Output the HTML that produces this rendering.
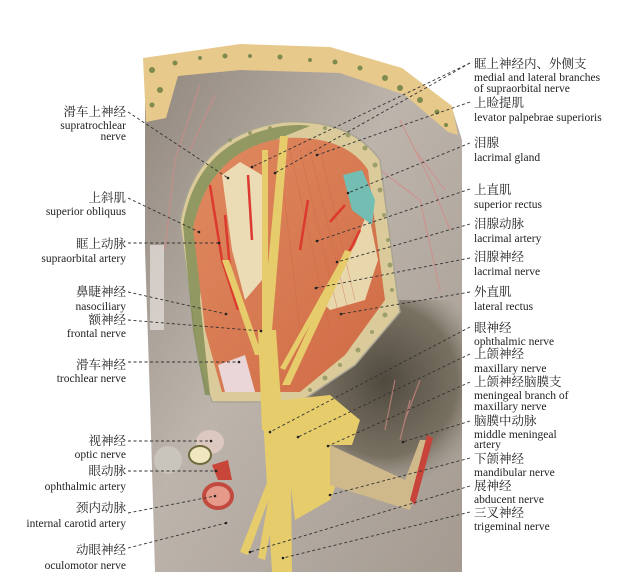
<!DOCTYPE html>
<html><head><meta charset="utf-8"><style>
html,body{margin:0;padding:0;background:#fff;}
svg{display:block;}
.c{font-family:"Liberation Serif","Noto Serif CJK SC",serif;font-size:12.5px;fill:#222;}
.e{font-family:"Liberation Serif","Noto Serif CJK SC",serif;font-size:11.5px;fill:#222;}
.d{stroke:#333;stroke-width:0.9;stroke-dasharray:3 2.5;fill:none;}
</style></head><body>
<svg width="625" height="587" viewBox="0 0 625 587" xmlns="http://www.w3.org/2000/svg">
<defs>
<linearGradient id="bg" x1="0" y1="0" x2="1" y2="1">
<stop offset="0" stop-color="#8f857b"/><stop offset="0.45" stop-color="#bdb4ac"/><stop offset="1" stop-color="#a49a90"/>
</linearGradient>
<radialGradient id="dk" cx="0.55" cy="0.45" r="0.6">
<stop offset="0" stop-color="#4f4a3e"/><stop offset="0.7" stop-color="#6a6252" stop-opacity="0.8"/><stop offset="1" stop-color="#8c8377" stop-opacity="0"/>
</radialGradient>
<linearGradient id="mus" x1="0" y1="0" x2="1" y2="1">
<stop offset="0" stop-color="#e08a60"/><stop offset="1" stop-color="#cf6a45"/>
</linearGradient>
</defs>
<path d="M145 60 L240 45 L330 48 L400 68 L452 108 L462 140 L462 572 L155 572 L150 400 L145 250 Z" fill="url(#bg)"/>
<path d="M290 300 L462 300 L462 480 L320 480 Z" fill="url(#dk)"/>
<rect x="150" y="245" width="14" height="85" fill="#e0dad4" opacity="0.8"/>
<g stroke="#d48a86" stroke-width="1.2" fill="none" opacity="0.7">
<path d="M200 85 L175 160 L165 250"/><path d="M215 95 L190 150"/>
<path d="M400 120 L430 180 L450 230"/><path d="M415 150 L445 190"/><path d="M380 170 L420 200 L440 290"/>
<path d="M410 400 L400 440"/><path d="M420 380 L405 420"/><path d="M395 380 L385 430"/>
</g>
<path d="M143 58 L240 44 L330 47 L402 68 L452 106 L458 135 L448 132 L405 95 L340 73 L240 70 L178 76 L166 118 L146 122 Z" fill="#e7c98b"/>
<g fill="#7e8a4e">
<circle cx="152" cy="70" r="3"/><circle cx="160" cy="90" r="3"/><circle cx="152" cy="105" r="2.5"/><circle cx="175" cy="63" r="2.5"/>
<circle cx="200" cy="58" r="2"/><circle cx="225" cy="56" r="2.5"/><circle cx="250" cy="56" r="2"/><circle cx="280" cy="57" r="2.5"/>
<circle cx="310" cy="60" r="2"/><circle cx="335" cy="62" r="2.5"/><circle cx="360" cy="68" r="2.5"/><circle cx="385" cy="78" r="3"/>
<circle cx="400" cy="88" r="3"/><circle cx="420" cy="100" r="3"/><circle cx="437" cy="112" r="2.5"/><circle cx="446" cy="125" r="2"/>
</g>
<!-- orbit -->
<path d="M180 222 Q195 135 283 122 Q350 118 380 160 L398 300 L400 312 L355 365 L300 402 L212 402 L198 360 Z" fill="#dccb9a" stroke="#a8a595" stroke-width="1.5"/>
<path d="M183 225 Q197 140 283 126 Q300 124 310 126 L250 150 L205 200 L200 300 L210 395 L205 395 L193 330 Z" fill="#7f8b52" opacity="0.8"/>
<path d="M193 228 Q210 148 285 138 Q345 135 368 170 L385 300 L345 355 L300 392 L222 392 L205 330 Z" fill="url(#mus)"/>
<g fill="#8d9560" opacity="0.8">
<circle cx="230" cy="140" r="2"/><circle cx="250" cy="133" r="2"/><circle cx="270" cy="128" r="2"/><circle cx="300" cy="127" r="2"/><circle cx="325" cy="128" r="2"/><circle cx="348" cy="135" r="2.5"/><circle cx="365" cy="148" r="2.5"/><circle cx="375" cy="165" r="2.5"/>
<circle cx="380" cy="190" r="2.5"/><circle cx="384" cy="215" r="2"/><circle cx="388" cy="240" r="2"/><circle cx="390" cy="265" r="2.5"/><circle cx="392" cy="290" r="2"/><circle cx="385" cy="315" r="2.5"/><circle cx="372" cy="332" r="2"/><circle cx="358" cy="350" r="2.5"/><circle cx="340" cy="365" r="2"/><circle cx="325" cy="378" r="2.5"/><circle cx="310" cy="390" r="2"/>
</g>
<!-- fat -->
<path d="M222 175 L240 162 L262 175 L262 280 L245 300 L232 250 Z" fill="#ecdcb5"/>
<path d="M320 300 L355 245 L368 210 L378 260 L365 300 L330 310 Z" fill="#e8d6ad"/>
<path d="M343 175 L362 170 L375 200 L372 225 L352 210 Z" fill="#74bdb3"/>
<path d="M218 365 L245 355 L255 392 L225 392 Z" fill="#ead6d6"/>
<g stroke="#c9603e" stroke-width="0.6" opacity="0.5">
<path d="M290 150 L330 330"/><path d="M300 150 L340 320"/><path d="M310 150 L348 310"/><path d="M320 150 L355 300"/><path d="M280 160 L300 330"/>
</g>
<g stroke="#dc3a2e" stroke-width="2.5" fill="none">
<path d="M210 185 L222 260 L238 310"/><path d="M225 215 L232 290"/><path d="M248 175 L252 240"/><path d="M330 222 L345 205"/><path d="M308 200 L300 250"/><path d="M340 270 L360 230"/>
</g>
<!-- nerves -->
<g fill="#e6cc6a">
<path d="M280 136 L288 136 L272 330 L262 330 Z"/>
<path d="M262 150 L268 150 L268 330 L262 330 Z"/>
<path d="M258 330 L276 330 L283 430 L262 430 Z"/>
<path d="M262 400 L290 400 L292 572 L272 572 Z"/>
<path d="M283 400 L330 395 L360 420 L352 445 L330 445 L338 480 L330 500 L295 520 L285 440 Z"/>
<path d="M330 445 L405 480 L420 440 L428 440 L410 510 L330 485 Z" fill="#cfb98a"/>
<path d="M345 250 L352 252 L290 385 L282 385 Z"/>
<path d="M338 265 L343 266 L285 370 L280 368 Z"/>
<path d="M222 260 L229 260 L262 355 L255 355 Z"/>
<path d="M268 480 L275 482 L248 555 L240 552 Z"/>
<path d="M270 490 L278 490 L265 560 L258 558 Z"/>
</g>
<path d="M410 500 L427 435 L433 438 L415 505 Z" fill="#c8443a"/>
<ellipse cx="210" cy="442" rx="14" ry="12" fill="#ddc8c0"/>
<ellipse cx="200" cy="455" rx="11" ry="9" fill="#f0e6c0" stroke="#6d6a3c" stroke-width="2"/>
<path d="M212 465 L228 460 L232 480 L218 480 Z" fill="#c8453a"/>
<ellipse cx="218" cy="496" rx="14" ry="12" fill="#e59a8a" stroke="#c24a3e" stroke-width="4"/>
<ellipse cx="168" cy="460" rx="14" ry="14" fill="#c9c4bc"/>
<path class="d" d="M128 112 L228 178"/>
<path class="d" d="M128 198 L199 232"/>
<path class="d" d="M128 243 L219 243"/>
<path class="d" d="M128 292 L226 314"/>
<path class="d" d="M128 320 L261 331"/>
<path class="d" d="M128 362 L239 362"/>
<path class="d" d="M128 441 L211 441"/>
<path class="d" d="M128 471 L216 471"/>
<path class="d" d="M128 513 L215 496"/>
<path class="d" d="M128 548 L226 523"/>
<path class="d" d="M470 63 L252 167"/>
<path class="d" d="M470 63 L275 173"/>
<path class="d" d="M470 102 L317 155"/>
<path class="d" d="M470 143 L348 193"/>
<path class="d" d="M470 189 L317 241"/>
<path class="d" d="M470 224 L337 262"/>
<path class="d" d="M470 258 L316 288"/>
<path class="d" d="M470 292 L341 314"/>
<path class="d" d="M470 327 L270 432"/>
<path class="d" d="M470 354 L298 437"/>
<path class="d" d="M470 382 L328 446"/>
<path class="d" d="M470 421 L403 442"/>
<path class="d" d="M470 458 L330 495"/>
<path class="d" d="M470 486 L250 552"/>
<path class="d" d="M470 512 L283 558"/>
<g fill="#222">
<circle cx="228" cy="178" r="1.3"/><circle cx="199" cy="232" r="1.3"/><circle cx="219" cy="243" r="1.3"/><circle cx="226" cy="314" r="1.3"/><circle cx="261" cy="331" r="1.3"/><circle cx="239" cy="362" r="1.3"/><circle cx="211" cy="441" r="1.3"/><circle cx="216" cy="471" r="1.3"/><circle cx="215" cy="496" r="1.3"/><circle cx="226" cy="523" r="1.3"/>
<circle cx="252" cy="167" r="1.3"/><circle cx="275" cy="173" r="1.3"/><circle cx="317" cy="155" r="1.3"/><circle cx="348" cy="193" r="1.3"/><circle cx="317" cy="241" r="1.3"/><circle cx="337" cy="262" r="1.3"/><circle cx="316" cy="288" r="1.3"/><circle cx="341" cy="314" r="1.3"/><circle cx="270" cy="432" r="1.3"/><circle cx="298" cy="437" r="1.3"/><circle cx="328" cy="446" r="1.3"/><circle cx="403" cy="442" r="1.3"/><circle cx="330" cy="495" r="1.3"/><circle cx="250" cy="552" r="1.3"/><circle cx="283" cy="558" r="1.3"/>
</g>
<g text-anchor="end">
<text class="c" x="126" y="116">滑车上神经</text><text class="e" x="126" y="129">supratrochlear</text><text class="e" x="126" y="140">nerve</text>
<text class="c" x="126" y="202">上斜肌</text><text class="e" x="126" y="215">superior obliquus</text>
<text class="c" x="126" y="248">眶上动脉</text><text class="e" x="126" y="262">supraorbital artery</text>
<text class="c" x="126" y="296">鼻睫神经</text><text class="e" x="126" y="310">nasociliary</text>
<text class="c" x="126" y="324">额神经</text><text class="e" x="126" y="337">frontal nerve</text>
<text class="c" x="126" y="369">滑车神经</text><text class="e" x="126" y="382">trochlear nerve</text>
<text class="c" x="126" y="445">视神经</text><text class="e" x="126" y="458">optic nerve</text>
<text class="c" x="126" y="475">眼动脉</text><text class="e" x="126" y="490">ophthalmic artery</text>
<text class="c" x="126" y="512">颈内动脉</text><text class="e" x="126" y="527">internal carotid artery</text>
<text class="c" x="126" y="554">动眼神经</text><text class="e" x="126" y="569">oculomotor nerve</text>
</g>
<g>
<text class="c" x="474" y="68">眶上神经内、外侧支</text><text class="e" x="474" y="81">medial and lateral branches</text><text class="e" x="474" y="92">of supraorbital nerve</text>
<text class="c" x="474" y="107">上睑提肌</text><text class="e" x="474" y="121">levator palpebrae superioris</text>
<text class="c" x="474" y="147">泪腺</text><text class="e" x="474" y="161">lacrimal gland</text>
<text class="c" x="474" y="194">上直肌</text><text class="e" x="474" y="208">superior rectus</text>
<text class="c" x="474" y="228">泪腺动脉</text><text class="e" x="474" y="242">lacrimal artery</text>
<text class="c" x="474" y="261">泪腺神经</text><text class="e" x="474" y="275">lacrimal nerve</text>
<text class="c" x="474" y="296">外直肌</text><text class="e" x="474" y="310">lateral rectus</text>
<text class="c" x="474" y="332">眼神经</text><text class="e" x="474" y="345">ophthalmic nerve</text>
<text class="c" x="474" y="358">上颌神经</text><text class="e" x="474" y="372">maxillary nerve</text>
<text class="c" x="474" y="386">上颌神经脑膜支</text><text class="e" x="474" y="399">meningeal branch of</text><text class="e" x="474" y="410">maxillary nerve</text>
<text class="c" x="474" y="425">脑膜中动脉</text><text class="e" x="474" y="438">middle meningeal</text><text class="e" x="474" y="448">artery</text>
<text class="c" x="474" y="463">下颌神经</text><text class="e" x="474" y="476">mandibular nerve</text>
<text class="c" x="474" y="490">展神经</text><text class="e" x="474" y="503">abducent nerve</text>
<text class="c" x="474" y="517">三叉神经</text><text class="e" x="474" y="530">trigeminal nerve</text>
</g>
</svg>
</body></html>
